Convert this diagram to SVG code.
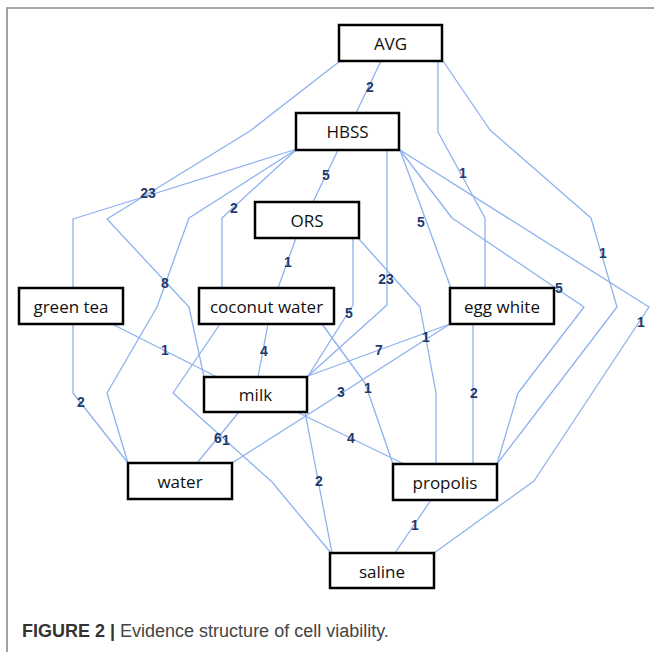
<svg xmlns="http://www.w3.org/2000/svg" width="654" height="652" viewBox="0 0 654 652">
<style>
.frame{fill:none;stroke:#8a8a8a;stroke-width:1.6}
.edge{fill:none;stroke:#8db2ee;stroke-width:1.3;stroke-linejoin:round}
.box{fill:#fff;stroke:#000;stroke-width:2.5}
.nt{font-family:"Open Sans","Liberation Sans",sans-serif;font-size:17px;fill:#111;text-anchor:middle}
.lb{font-family:"Liberation Sans",Arial,sans-serif;font-size:14px;font-weight:bold;fill:#1f3a6b;text-anchor:middle}
.cap{font-family:"Liberation Sans",Arial,sans-serif;font-size:18px;fill:#444}
</style>
<rect width="654" height="652" fill="#fff"/>
<path class="frame" d="M7,652 V8 H654"/>
<g id="connectors">
<path class="edge" d="M381,61 L356,113"/>
<path class="edge" d="M340,61 L250,131 L107,219 L189,307 L204,377"/>
<path class="edge" d="M438,61 L438,132 L485,218 L485,288"/>
<path class="edge" d="M443,61 L490,130 L591,218 L617,307 L497,464"/>
<path class="edge" d="M297,149 L73,219 L73,288"/>
<path class="edge" d="M297,149 L189,218 L157,307 L107,393 L128,463"/>
<path class="edge" d="M297,149 L222,218 L222,288"/>
<path class="edge" d="M338,150 L313,202"/>
<path class="edge" d="M387,150 L387,305 L308,376"/>
<path class="edge" d="M400,150 L451,288"/>
<path class="edge" d="M400,150 L452,218 L584,307 L518,393 L497,464"/>
<path class="edge" d="M400,150 L649,307 L534,481 L434,553"/>
<path class="edge" d="M296,238 L278,288"/>
<path class="edge" d="M353,238 L353,305 L308,376"/>
<path class="edge" d="M358,238 L420,307 L436,393 L436,464"/>
<path class="edge" d="M268,324 L258,377"/>
<path class="edge" d="M220,324 L173,393 L272,482 L331,553"/>
<path class="edge" d="M322,324 L365,383 L393,464"/>
<path class="edge" d="M112,324 L217,377"/>
<path class="edge" d="M73,324 L73,393 L128,463"/>
<path class="edge" d="M239,412 L197,463"/>
<path class="edge" d="M297,412 L404,464"/>
<path class="edge" d="M305,412 L332,553"/>
<path class="edge" d="M450,324 L308,376"/>
<path class="edge" d="M450,324 L232,463"/>
<path class="edge" d="M473,324 L473,464"/>
<path class="edge" d="M431,500 L395,553"/>
</g>
<g id="edge-labels">
<text class="lb" x="370" y="92">2</text>
<text class="lb" x="148" y="198">23</text>
<text class="lb" x="326" y="180">5</text>
<text class="lb" x="234" y="213">2</text>
<text class="lb" x="463" y="178">1</text>
<text class="lb" x="603" y="258">1</text>
<text class="lb" x="421" y="227">5</text>
<text class="lb" x="288" y="267">1</text>
<text class="lb" x="386" y="284">23</text>
<text class="lb" x="165" y="288">8</text>
<text class="lb" x="559" y="293">5</text>
<text class="lb" x="349" y="318">5</text>
<text class="lb" x="641" y="327">1</text>
<text class="lb" x="165" y="355">1</text>
<text class="lb" x="264" y="356">4</text>
<text class="lb" x="379" y="355">7</text>
<text class="lb" x="426" y="342">1</text>
<text class="lb" x="368" y="393">1</text>
<text class="lb" x="341" y="397">3</text>
<text class="lb" x="474" y="398">2</text>
<text class="lb" x="81" y="407">2</text>
<text class="lb" x="218" y="443">6</text>
<text class="lb" x="226" y="445">1</text>
<text class="lb" x="351" y="443">4</text>
<text class="lb" x="319" y="486">2</text>
<text class="lb" x="415" y="530">1</text>
</g>
<g id="AVG"><rect class="box" x="339" y="25" width="103" height="36"/><text class="nt" x="390.5" y="50">AVG</text></g>
<g id="HBSS"><rect class="box" x="296" y="113" width="103" height="37"/><text class="nt" x="347.5" y="138">HBSS</text></g>
<g id="ORS"><rect class="box" x="255" y="202" width="104" height="36"/><text class="nt" x="307" y="227">ORS</text></g>
<g id="green-tea"><rect class="box" x="19" y="288" width="104" height="36"/><text class="nt" x="71" y="313">green tea</text></g>
<g id="coconut-water"><rect class="box" x="199" y="288" width="135" height="36"/><text class="nt" x="266.5" y="313">coconut water</text></g>
<g id="egg-white"><rect class="box" x="450" y="288" width="104" height="36"/><text class="nt" x="502" y="313">egg white</text></g>
<g id="milk"><rect class="box" x="204" y="377" width="103" height="35"/><text class="nt" x="255.5" y="401">milk</text></g>
<g id="water"><rect class="box" x="128" y="463" width="104" height="36"/><text class="nt" x="180" y="488">water</text></g>
<g id="propolis"><rect class="box" x="393" y="464" width="104" height="36"/><text class="nt" x="445" y="489">propolis</text></g>
<g id="saline"><rect class="box" x="330" y="553" width="104" height="35"/><text class="nt" x="382" y="578">saline</text></g>
<text class="cap" x="22" y="637"><tspan font-weight="bold" fill="#333">FIGURE 2 |</tspan> Evidence structure of cell viability.</text>
</svg>
